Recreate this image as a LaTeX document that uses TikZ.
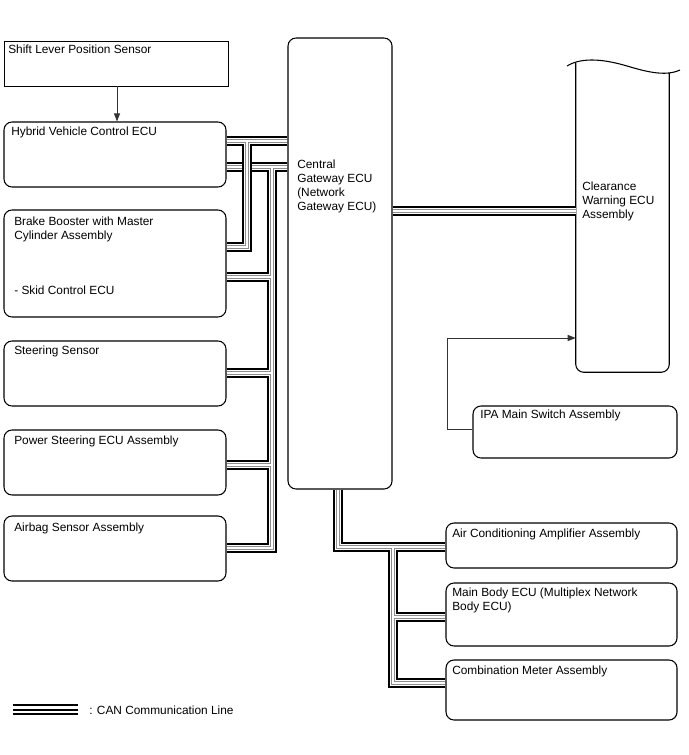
\documentclass[tikz,border=0pt]{standalone}
\usepackage{fontspec}
\setmainfont{Liberation Sans}
\usetikzlibrary{arrows.meta,fit}
\newcommand\canlayers[1]{%
  \draw[busouter] #1;
  \draw[busgap] #1;
  \draw[busgray] #1;
  \draw[buscore] #1;}
\begin{document}
\begin{tikzpicture}[x=0.75pt,y=-0.75pt,
  box/.style={draw=black, line width=0.8pt, rounded corners=6pt, inner sep=0pt},
  sqbox/.style={draw=black, line width=0.7pt, inner sep=0pt},
  lbl/.style={anchor=north west, inner sep=0pt, align=left, font=\fontsize{8.9}{10.5}\selectfont},
  sigarrow/.style={draw=black!80, line width=0.7pt, -{Triangle[length=6pt,width=4.5pt]}},
  busouter/.style={draw=black, line width=7.5pt, line join=miter, line cap=butt},
  busgap/.style={draw=white, line width=4.5pt, line join=miter, line cap=butt},
  busgray/.style={draw=black!45, line width=3pt, line join=miter, line cap=butt},
  buscore/.style={draw=white, line width=1.1pt, line join=miter, line cap=butt},
  legline/.style={draw=black, line width=1.5pt}
]
\useasboundingbox[fill=white] (0,0) rectangle (688,755);

% boxes
\node[sqbox, fit={(4,41) (228,86)}] (shift) {};
\node[box, fit={(4,122) (226,187)}] (hv) {};
\node[box, fit={(4,210) (226,317)}] (brake) {};
\node[box, fit={(4,341) (226,406)}] (steer) {};
\node[box, fit={(4,430) (226,495)}] (ps) {};
\node[box, fit={(4,516) (226,581)}] (airbag) {};
\node[box, fit={(288,38) (392,489)}] (gw) {};
\node[inner sep=0pt, fit={(576,66) (669,372)}] (cw) {};
\node[box, fit={(473,406) (677,458)}] (ipa) {};
\node[box, fit={(446,523) (677,568)}] (ac) {};
\node[box, fit={(446,583) (677,646)}] (mb) {};
\node[box, fit={(446,660) (677,720)}] (cm) {};

% clearance warning ECU outline with torn top
\draw[line width=0.8pt, rounded corners=6pt] (cw.west |- 0,63) -- (cw.south west) -- (cw.south east) -- (cw.east |- 0,73);
\draw[line width=0.8pt] (567,66) .. controls (580,58) and (600,58) .. (627,66) .. controls (645,71.3) and (665,77) .. (680,70);

% labels
\node[lbl] (tshift) at (8,45) {Shift Lever Position Sensor};
\node[lbl] (thv) at (11,127) {Hybrid Vehicle Control ECU};
\node[lbl] (tbrake) at (14,217) {Brake Booster with Master\\Cylinder Assembly};
\node[lbl] (tskid) at (14,286) {- Skid Control ECU};
\node[lbl] (tsteer) at (14,346) {Steering Sensor};
\node[lbl] (tps) at (14,436) {Power Steering ECU Assembly};
\node[lbl] (tairbag) at (14,523) {Airbag Sensor Assembly};
\node[lbl] (tgw) at (297,160) {Central\\Gateway ECU\\(Network\\Gateway ECU)};
\node[lbl] (tcw) at (582,182) {Clearance\\Warning ECU\\Assembly};
\node[lbl] (tipa) at (480,410) {IPA Main Switch Assembly};
\node[lbl] (tac) at (452,529) {Air Conditioning Amplifier Assembly};
\node[lbl] (tmb) at (452,588) {Main Body ECU (Multiplex Network\\Body ECU)};
\node[lbl] (tcm) at (452,666) {Combination Meter Assembly};

% signal arrows
\draw[sigarrow] (117,0 |- shift.south) -- (117,0 |- hv.north);
\draw[sigarrow] (ipa.west |- 0,429) -- (447,429) -- (447,338) -- (cw.west |- 0,338);

% CAN bus B (lower of HV ECU, drop to the lower ECUs)
\canlayers{(hv.east |- 0,167) -- (gw.west |- 0,167)
  (272,167) -- (272,548) -- (airbag.east |- 0,548)
  (272,277) -- (brake.east |- 0,277)
  (272,373) -- (steer.east |- 0,373)
  (272,465) -- (ps.east |- 0,465)}
% CAN bus A (upper of HV ECU, drop to brake booster)
\canlayers{(hv.east |- 0,141) -- (gw.west |- 0,141)
  (247,141) -- (247,247) -- (brake.east |- 0,247)}
% CAN bus to clearance warning ECU
\canlayers{(gw.east |- 0,211) -- (cw.west |- 0,211)}
% CAN bus to the lower right ECUs
\canlayers{(338,0 |- gw.south) -- (338,547) -- (ac.west |- 0,547)
  (393,547) -- (393,683) -- (cm.west |- 0,683)
  (393,617) -- (mb.west |- 0,617)}

% legend
\coordinate (lg1) at (13,705);
\coordinate (lg2) at (78,705);
\draw[legline] (lg1) -- (lg2);
\draw[legline] ([yshift=-4.5*0.75pt]lg1) -- ([yshift=-4.5*0.75pt]lg2);
\draw[legline] ([yshift=-9.3*0.75pt]lg1) -- ([yshift=-9.3*0.75pt]lg2);
\node[lbl] (tleg) at (89,706) {: CAN Communication Line};
\end{tikzpicture}
\end{document}
